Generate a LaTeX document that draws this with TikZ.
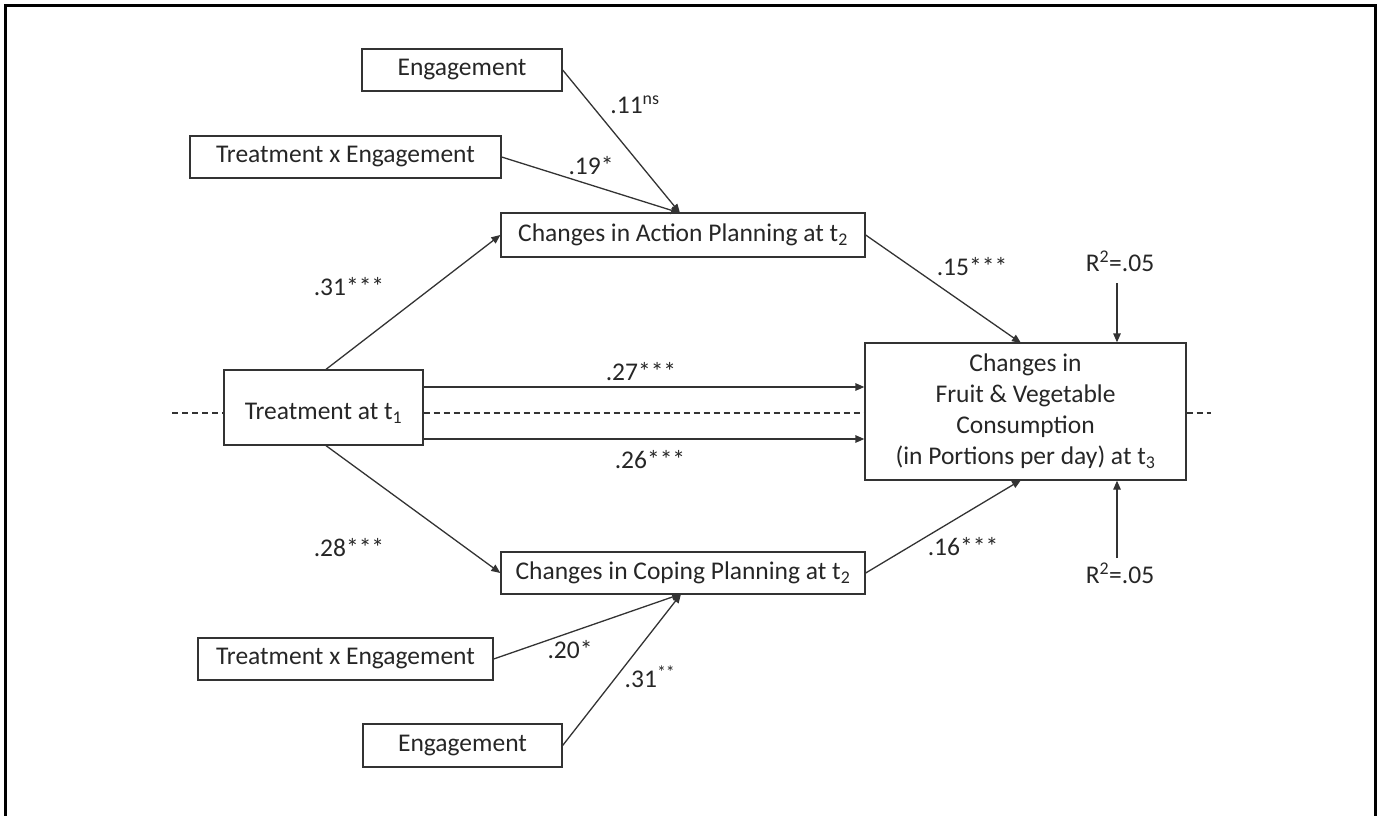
\documentclass[tikz,border=0pt]{standalone}
\usepackage{fontspec}
\setmainfont{Carlito}
\usetikzlibrary{arrows.meta}
\begin{document}
\begin{tikzpicture}[x=1pt,y=-1pt,
  box/.style={draw=black!80,line width=1.3pt,rectangle,inner sep=0pt,anchor=center,
    font=\fontsize{25.5}{31}\selectfont,text=black!85},
  lbl/.style={font=\fontsize{25.5}{31}\selectfont,text=black!85,inner sep=0pt,anchor=center},
  arr/.style={draw=black!80,line width=1.3pt,-{Triangle[length=9pt,width=7.5pt]}},
  dashline/.style={draw=black!80,line width=1.3pt,dash pattern=on 6pt off 4pt}]
\useasboundingbox (0,0) rectangle (1378,816);
% frame (bottom edge outside the picture)
\draw[line width=3pt] (5,820) -- (5,6) -- (1375,6) -- (1375,820);

% boxes
\node[box,minimum width=200pt,minimum height=42pt] (eA) at (462,70) {Engagement};
\node[box,minimum width=311pt,minimum height=42pt] (txeA) at (345.5,157) {Treatment x Engagement};
\node[box,minimum width=364pt,minimum height=44pt] (act) at (683,235) {Changes in Action Planning at t\textsubscript{2}};
\node[box,minimum width=199pt,minimum height=75pt] (treat) at (323.5,407.5) {\raisebox{-6pt}[\height][\depth]{Treatment at t\textsubscript{1}}};
\node[box,minimum width=321pt,minimum height=137pt,align=center] (main) at (1025.5,411.5)
  {Changes in\\Fruit \& Vegetable\\Consumption\\(in Portions per day) at t\textsubscript{3}};
\node[box,minimum width=364pt,minimum height=42pt] (cop) at (683,573) {Changes in Coping Planning at t\textsubscript{2}};
\node[box,minimum width=295pt,minimum height=42pt] (txeB) at (345.5,659) {Treatment x Engagement};
\node[box,minimum width=199pt,minimum height=43pt] (eB) at (462.5,745.5) {Engagement};

% helper coordinates
\coordinate (dl) at (172,413);
\coordinate (dr) at (1211,413);
\coordinate (rt) at (1117,283);
\coordinate (rb) at (1117,558);
\coordinate (actin) at (680,213);
\coordinate (copin) at (681,594);
\coordinate (mtop) at (1021,343);
\coordinate (mbot) at (1021,480);

% dashed line
\draw[dashline] (dl) -- (dl -| treat.west);
\draw[dashline] (treat.east |- dl) -- (main.west |- dl);
\draw[dashline] (main.east |- dl) -- (dr);

% connectors
\draw[arr] (eA.east) -- (actin);
\draw[arr] (txeA.east) -- (actin);
\draw[arr] ([xshift=2.5pt]treat.north) -- (act.west);
\draw[arr] (act.east) -- (mtop);
\draw[arr] ([yshift=20.5pt]treat.east) -- ([yshift=20.5pt]treat.east -| main.west);
\draw[arr] ([yshift=-31.5pt]treat.east) -- ([yshift=-31.5pt]treat.east -| main.west);
\draw[arr] ([xshift=2.5pt]treat.south) -- (cop.west);
\draw[arr] (cop.east) -- (mbot);
\draw[arr] (txeB.east) -- (copin);
\draw[arr] (eB.east) -- (copin);
\draw[arr] (rt) -- (rt |- main.north);
\draw[arr] (rb) -- (rb |- main.south);

% labels
\node[lbl] (l1) at (635,105) {.11\textsuperscript{ns}};
\node[lbl] (l2) at (591,166) {.19*};
\node[lbl] (l3) at (349,287) {.31***};
\node[lbl] (l4) at (972,267) {.15***};
\node[lbl] (l5) at (641,372) {.27***};
\node[lbl] (l6) at (650,460) {.26***};
\node[lbl] (l7) at (349,548) {.28***};
\node[lbl] (l8) at (963,547) {.16***};
\node[lbl] (l9) at (570,650) {.20*};
\node[lbl] (l10) at (650,677) {.31\textsuperscript{**}};
\node[lbl] (r1) at (1120,261) {R\textsuperscript{2}=.05};
\node[lbl] (r2) at (1120,573) {R\textsuperscript{2}=.05};
\end{tikzpicture}
\end{document}
